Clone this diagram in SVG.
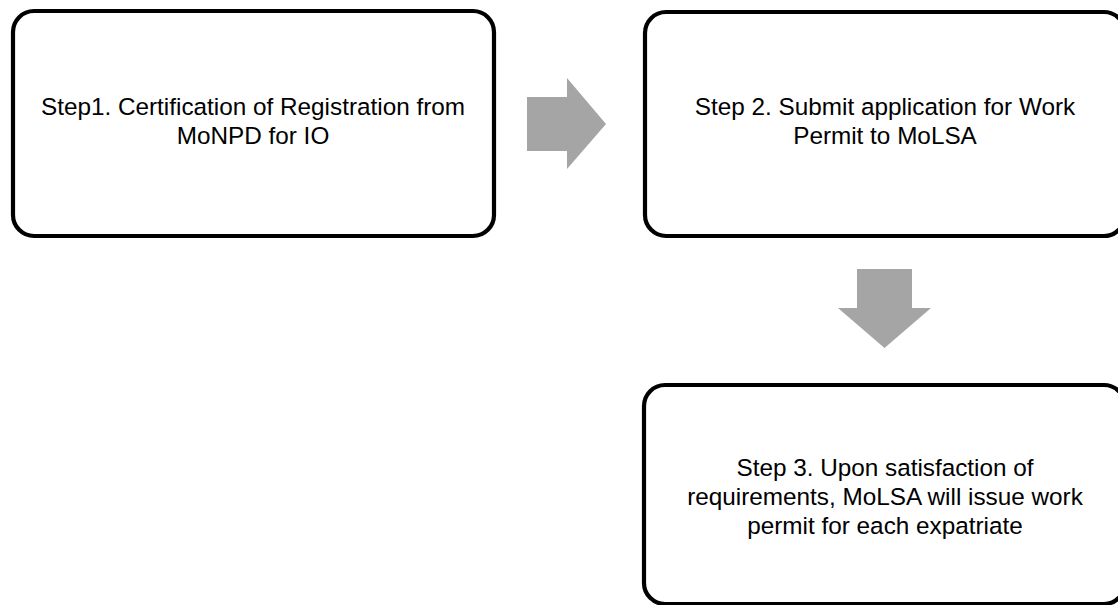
<svg xmlns="http://www.w3.org/2000/svg" width="1118" height="605" viewBox="0 0 1118 605">
  <style>
    .box { fill: #FFFFFF; stroke: #000000; stroke-width: 4.2; }
    .arrow { fill: #A5A5A5; stroke: none; }
    .label { font-family: "Liberation Sans", "Open Sans", Arial, sans-serif; font-size: 24.3px; fill: #000000; text-anchor: middle; }
  </style>
  <rect width="1118" height="605" fill="#FFFFFF"/>
  <g id="connectors">
    <polygon class="arrow" points="527,97 567,97 567,78 606,124 567,169 567,151 527,151"/>
    <polygon class="arrow" points="857,269 912,269 912,308 931,308 884.5,348 838,308 857,308"/>
  </g>
  <g id="step1">
    <rect class="box" x="13" y="11" width="481" height="225" rx="21" ry="21"/>
    <text class="label" x="253" y="115">Step1. Certification of Registration from</text>
    <text class="label" x="253" y="144">MoNPD for IO</text>
  </g>
  <g id="step2">
    <rect class="box" x="645" y="12" width="480" height="224" rx="21" ry="21"/>
    <text class="label" x="885" y="115">Step 2. Submit application for Work</text>
    <text class="label" x="885" y="144">Permit to MoLSA</text>
  </g>
  <g id="step3">
    <rect class="box" x="644" y="385" width="481" height="219" rx="21" ry="21"/>
    <text class="label" x="885" y="476">Step 3. Upon satisfaction of</text>
    <text class="label" x="885" y="505">requirements, MoLSA will issue work</text>
    <text class="label" x="885" y="534">permit for each expatriate</text>
  </g>
</svg>
